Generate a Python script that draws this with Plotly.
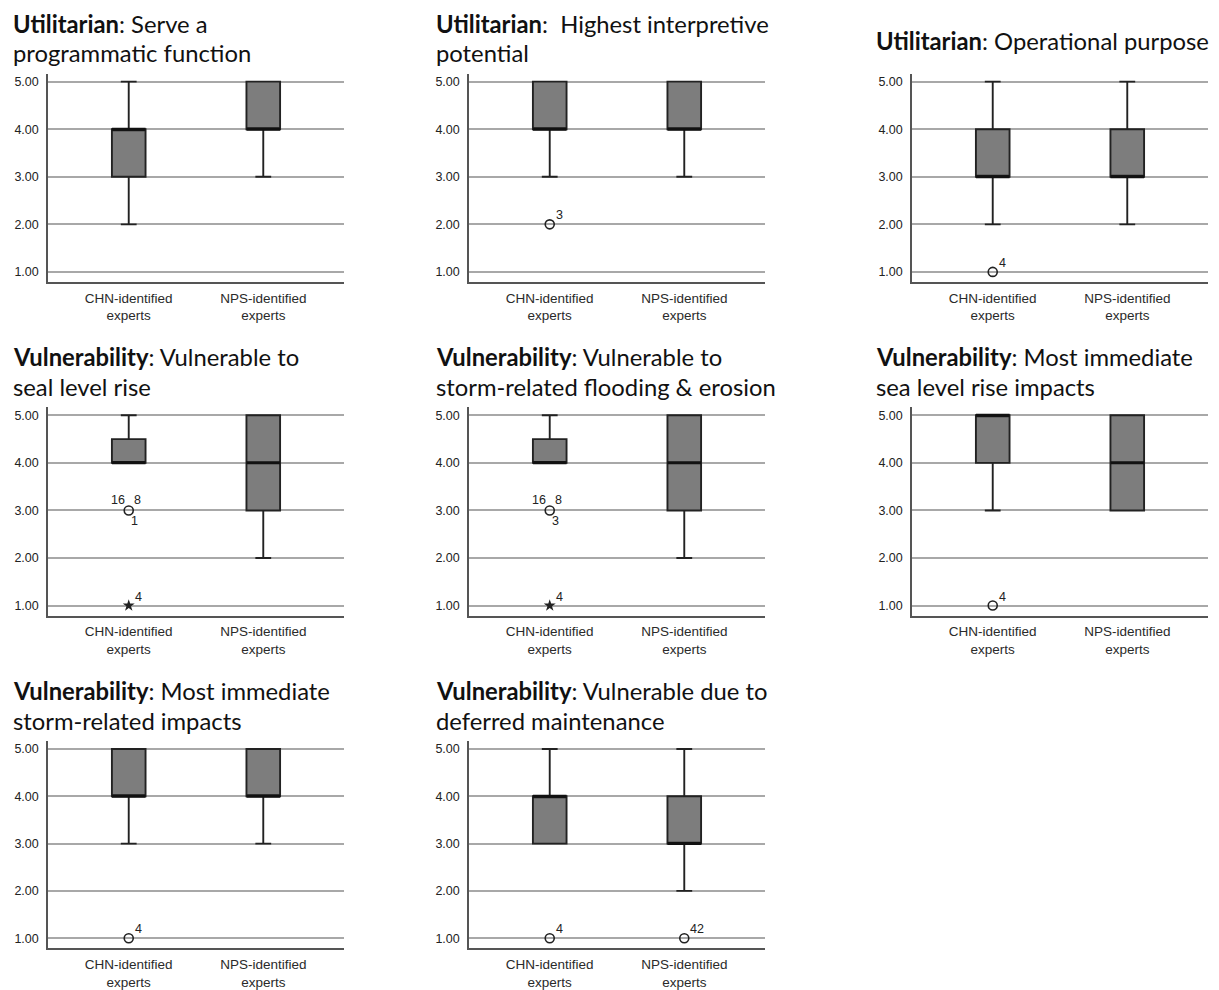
import plotly.graph_objects as go

# ---------------- data ----------------
groups = ["CHN-identified<br>experts", "NPS-identified<br>experts"]
group_pos = [0, 1]
y_ticks = [1, 2, 3, 4, 5]

title_bold = ["Utilitarian", "Utilitarian", "Utilitarian",
              "Vulnerability", "Vulnerability", "Vulnerability",
              "Vulnerability", "Vulnerability"]
title_line1 = [": Serve a", ":\u00a0 Highest interpretive", ": Operational purpose",
               ": Vulnerable to", ": Vulnerable to", ": Most immediate",
               ": Most immediate", ": Vulnerable due to"]
title_line2 = ["programmatic function", "potential", "",
               "seal level rise", "storm-related flooding & erosion", "sea level rise impacts",
               "storm-related impacts", "deferred maintenance"]

# CHN-identified experts
chn_lower = [2, 3, 2, 4, 4, 3, 3, 3]
chn_q1 = [3, 4, 3, 4, 4, 4, 4, 3]
chn_median = [4, 4, 3, 4, 4, 5, 4, 4]
chn_q3 = [4, 5, 4, 4.5, 4.5, 5, 5, 4]
chn_upper = [5, 5, 5, 5, 5, 5, 5, 5]

# NPS-identified experts
nps_lower = [3, 3, 2, 2, 2, 3, 3, 2]
nps_q1 = [4, 4, 3, 3, 3, 3, 4, 3]
nps_median = [4, 4, 3, 4, 4, 4, 4, 3]
nps_q3 = [5, 5, 4, 5, 5, 5, 5, 4]
nps_upper = [5, 5, 5, 5, 5, 5, 5, 5]

# outliers: panel index, group index, value, case labels, kind
outlier_panel = [1, 2, 3, 3, 4, 4, 5, 6, 7, 7]
outlier_group = [0, 0, 0, 0, 0, 0, 0, 0, 0, 1]
outlier_value = [2, 1, 3, 1, 3, 1, 1, 1, 1, 1]
outlier_labels = [["3"], ["4"], ["16", "8", "1"], ["4"], ["16", "8", "3"], ["4"],
                  ["4"], ["4"], ["4"], ["42"]]
outlier_kind = ["circle", "circle", "circle", "star", "circle", "star",
                "circle", "circle", "circle", "circle"]

# ---------------- layout geometry (pixels) ----------------
W, H = 1219, 990
col_px = [(48, 344), (469, 765), (912, 1208)]
row_px = [(82, 273), (417, 608), (752, 942)]  # (y at 5.00, y at 1.00)
Y_RANGE = [0.79, 5.17]
X_RANGE = [-0.6, 1.6]
title_x = [11, 434, 874]
title_y = [(24, 53), (358, 389), (694, 724)]

BOX_FILL = "#7d7d7d"
EDGE = "#222222"
TITLE_FONT = dict(family="Lato", size=23.8, color="#111111")

fig = go.Figure()

label_offsets = {1: [(10, 9)], 3: [(-11, 10), (9, 10), (6, -11)]}

for i in range(8):
    r, c = divmod(i, 3)
    xl, xr = col_px[c]
    y5, y1 = row_px[r]
    p = (y1 - y5) / 4.0
    top_px = y5 - (Y_RANGE[1] - 5) * p
    bot_px = y1 + (1 - Y_RANGE[0]) * p
    ax = "" if i == 0 else str(i + 1)
    xa, ya = "x" + ax, "y" + ax
    fig.update_layout(**{
        "xaxis" + ax: dict(domain=[xl / W, xr / W], range=X_RANGE, anchor=ya,
                           tickvals=group_pos, ticktext=groups, showgrid=False,
                           zeroline=False, showline=True, linecolor="#555555", linewidth=1.5,
                           ticks="outside", ticklen=3, tickcolor="rgba(0,0,0,0)",
                           tickfont=dict(family="Liberation Sans, Arial", size=13.5, color="#2a2a2a"),
                           fixedrange=True),
        "yaxis" + ax: dict(domain=[1 - bot_px / H, 1 - top_px / H], range=Y_RANGE, anchor=xa,
                           tickvals=y_ticks, tickformat=".2f", showgrid=True,
                           gridcolor="#a8a8a8", gridwidth=1.5, zeroline=False,
                           showline=True, linecolor="#555555", linewidth=1.5,
                           ticks="outside", ticklen=5, tickcolor="rgba(0,0,0,0)",
                           tickfont=dict(family="Liberation Sans, Arial", size=12.5, color="#222222"),
                           fixedrange=True),
    })
    stats = [
        (chn_lower[i], chn_q1[i], chn_median[i], chn_q3[i], chn_upper[i]),
        (nps_lower[i], nps_q1[i], nps_median[i], nps_q3[i], nps_upper[i]),
    ]
    for g, (lo, q1, md, q3, up) in enumerate(stats):
        fig.add_trace(go.Box(
            x=[group_pos[g]], lowerfence=[lo], q1=[q1], median=[md], q3=[q3], upperfence=[up],
            width=0.25, whiskerwidth=0.47, fillcolor=BOX_FILL,
            line=dict(color=EDGE, width=1.9), xaxis=xa, yaxis=ya, showlegend=False,
            hoverinfo="skip"))
        # thicker median line (SPSS style)
        fig.add_trace(go.Scatter(
            x=[group_pos[g] - 0.125, group_pos[g] + 0.125], y=[md, md], mode="lines",
            line=dict(color="#111111", width=3), xaxis=xa, yaxis=ya,
            showlegend=False, hoverinfo="skip"))

    # title
    tx = title_x[c]
    ty1, ty2 = title_y[r]
    if not title_line2[i]:
        ty1 = 41
    fig.add_annotation(text="<b>" + title_bold[i] + "</b>" + title_line1[i],
                       x=tx / W, y=1 - ty1 / H, xref="paper", yref="paper",
                       xanchor="left", yanchor="middle", showarrow=False,
                       font=TITLE_FONT)
    if title_line2[i]:
        fig.add_annotation(text=title_line2[i],
                           x=tx / W, y=1 - ty2 / H, xref="paper", yref="paper",
                           xanchor="left", yanchor="middle", showarrow=False,
                           font=TITLE_FONT)

# outliers
for k in range(len(outlier_panel)):
    i = outlier_panel[k]
    ax = "" if i == 0 else str(i + 1)
    xa, ya = "x" + ax, "y" + ax
    gx = group_pos[outlier_group[k]]
    val = outlier_value[k]
    if outlier_kind[k] == "star":
        marker = dict(symbol="star", size=9, color="#222222", line=dict(width=0))
    else:
        marker = dict(symbol="circle-open", size=9, color="#222222", line=dict(width=1.6))
    fig.add_trace(go.Scatter(x=[gx], y=[val], mode="markers", marker=marker,
                             xaxis=xa, yaxis=ya, showlegend=False, hoverinfo="skip"))
    labs = outlier_labels[k]
    offs = label_offsets[len(labs)] if len(labs) in label_offsets else label_offsets[1]
    for lab, (dx, dy) in zip(labs, offs):
        if len(labs) == 1 and len(lab) > 1:
            dx += 3
        fig.add_annotation(text=lab, x=gx, y=val, xref=xa, yref=ya, showarrow=False,
                           xshift=dx, yshift=dy,
                           font=dict(family="Liberation Sans, Arial", size=12.5, color="#222222"))

fig.update_layout(width=W, height=H, margin=dict(l=0, r=0, t=0, b=0),
                  paper_bgcolor="white", plot_bgcolor="white", showlegend=False)

fig.write_html("out.html", config={"displayModeBar": False},
               post_script="document.body.style.margin='0px';")
